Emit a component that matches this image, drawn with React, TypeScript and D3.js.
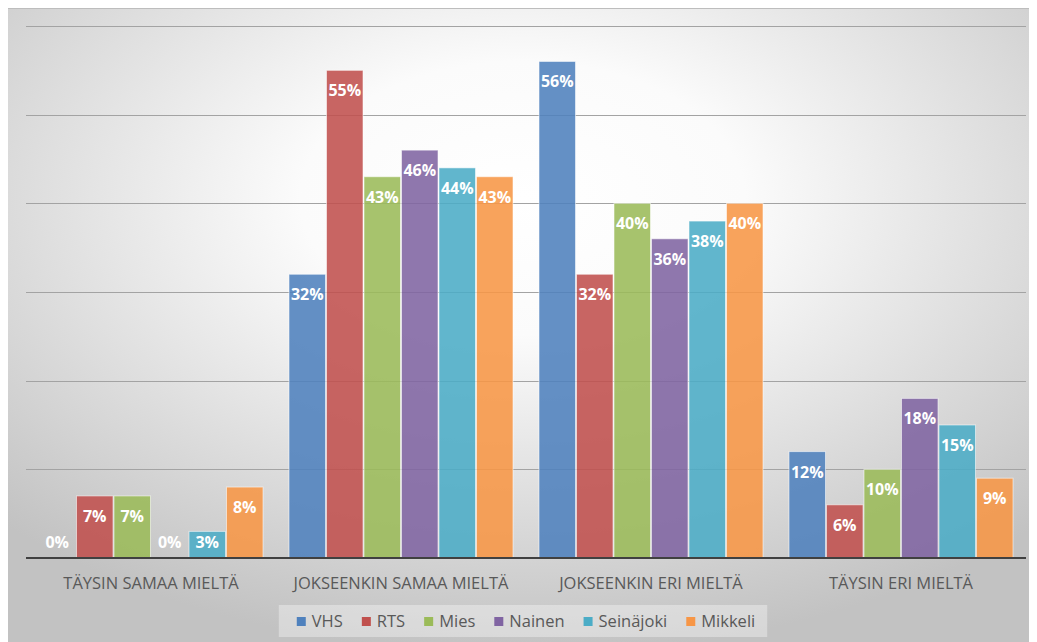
import React, { useEffect, useRef } from "react";
import * as d3 from "d3";

// Survey answers per respondent group (percent)
const categories = [
  "TÄYSIN SAMAA MIELTÄ",
  "JOKSEENKIN SAMAA MIELTÄ",
  "JOKSEENKIN ERI MIELTÄ",
  "TÄYSIN ERI MIELTÄ",
];
const seriesNames = ["VHS", "RTS", "Mies", "Nainen", "Seinäjoki", "Mikkeli"];
const vhsValues = [0, 32, 56, 12];
const rtsValues = [7, 55, 32, 6];
const miesValues = [7, 43, 40, 10];
const nainenValues = [0, 46, 36, 18];
const seinajokiValues = [3, 44, 38, 15];
const mikkeliValues = [8, 43, 40, 9];
const seriesColors = ["#4F81BD", "#C0504D", "#9BBB59", "#8064A2", "#4BACC6", "#F79646"];
const yTicks = [0, 10, 20, 30, 40, 50, 60];

const W = 1029;
const H = 634;
const FONT = "'Open Sans', 'DejaVu Sans', sans-serif";

export default function App() {
  const ref = useRef<SVGSVGElement | null>(null);

  useEffect(() => {
    const svg = d3.select(ref.current);
    svg.selectAll("*").remove();

    const seriesValues = [vhsValues, rtsValues, miesValues, nainenValues, seinajokiValues, mikkeliValues];

    const defs = svg.append("defs");
    const grad = defs
      .append("radialGradient")
      .attr("id", "bg")
      .attr("cx", 0.5)
      .attr("cy", 0.3)
      .attr("r", 0.72);
    grad.append("stop").attr("offset", 0).attr("stop-color", "#ffffff");
    grad.append("stop").attr("offset", 0.3).attr("stop-color", "#fbfbfb");
    grad.append("stop").attr("offset", 1).attr("stop-color", "#c2c2c2");

    svg.append("rect").attr("width", W).attr("height", H).attr("fill", "url(#bg)");
    svg.append("line").attr("x1", 0).attr("x2", W).attr("y1", 0.5).attr("y2", 0.5)
      .attr("stroke", "#bdbdbd").attr("stroke-width", 1);

    const plotLeft = 18;
    const plotRight = 1018;
    const y = d3.scaleLinear().domain([0, 60]).range([550, 18]);
    const x0 = d3.scaleBand<string>().domain(categories).range([plotLeft, plotRight])
      .paddingInner(0.1).paddingOuter(0.05);
    const x1 = d3.scaleBand<string>().domain(seriesNames).range([0, x0.bandwidth()]);

    // gridlines
    svg.append("g").selectAll("line")
      .data(yTicks.filter((t) => t > 0))
      .join("line")
      .attr("x1", plotLeft).attr("x2", plotRight)
      .attr("y1", (d) => Math.round(y(d)) + 0.5).attr("y2", (d) => Math.round(y(d)) + 0.5)
      .attr("stroke", "#a3a3a3").attr("stroke-width", 1);

    // bars
    const groups = svg.append("g").selectAll("g")
      .data(categories)
      .join("g")
      .attr("transform", (c) => `translate(${x0(c)},0)`);

    groups.each(function (c, ci) {
      const g = d3.select(this);
      const rows = seriesNames.map((s, si) => ({ s, si, v: seriesValues[si][ci] }));
      g.selectAll("rect")
        .data(rows.filter((r) => r.v > 0))
        .join("rect")
        .attr("x", (r) => x1(r.s)! + 0.5)
        .attr("y", (r) => y(r.v))
        .attr("width", x1.bandwidth() - 1)
        .attr("height", (r) => y(0) - y(r.v))
        .attr("fill", (r) => seriesColors[r.si])
        .attr("fill-opacity", 0.88)
        .attr("stroke", "#ffffff")
        .attr("stroke-opacity", 0.55)
        .attr("stroke-width", 1);
      g.selectAll("text")
        .data(rows)
        .join("text")
        .attr("x", (r) => x1(r.s)! + x1.bandwidth() / 2)
        .attr("y", (r) => Math.min(y(r.v) + 26, y(0) - 10))
        .attr("text-anchor", "middle")
        .attr("font-family", FONT)
        .attr("font-weight", "bold")
        .attr("font-size", 16)
        .attr("fill", "#ffffff")
        .text((r) => `${r.v}%`);
    });

    // baseline
    svg.append("line")
      .attr("x1", plotLeft).attr("x2", plotRight)
      .attr("y1", y(0)).attr("y2", y(0))
      .attr("stroke", "#404040").attr("stroke-width", 2);

    // category labels
    svg.append("g").selectAll("text")
      .data(categories)
      .join("text")
      .attr("x", (c) => x0(c)! + x0.bandwidth() / 2)
      .attr("y", 581)
      .attr("text-anchor", "middle")
      .attr("font-family", FONT)
      .attr("font-size", 16.5)
      .attr("fill", "#595959")
      .text((c) => c);

    // legend
    const legend = svg.append("g");
    const box = legend.append("rect").attr("fill", "#ffffff").attr("fill-opacity", 0.35);
    const items = legend.selectAll("g")
      .data(seriesNames)
      .join("g");
    items.append("rect")
      .attr("width", 9).attr("height", 9).attr("y", 609)
      .attr("fill", (_, i) => seriesColors[i]);
    items.append("text")
      .attr("x", 15).attr("y", 619)
      .attr("font-family", FONT).attr("font-size", 16.5)
      .attr("fill", "#595959")
      .text((d) => d);
    const gap = 19;
    let cursor = 0;
    const offsets: number[] = [];
    items.each(function () {
      const t = d3.select(this).select("text").node() as SVGTextElement;
      offsets.push(cursor);
      cursor += 15 + t.getComputedTextLength() + gap;
    });
    const total = cursor - gap;
    const start = (plotLeft + plotRight) / 2 - total / 2;
    items.attr("transform", (_, i) => `translate(${start + offsets[i]},0)`);
    box.attr("x", start - 18).attr("y", 597).attr("width", total + 30).attr("height", 32);
  }, []);

  return <svg ref={ref} width={W} height={H} style={{ display: "block" }} />;
}
